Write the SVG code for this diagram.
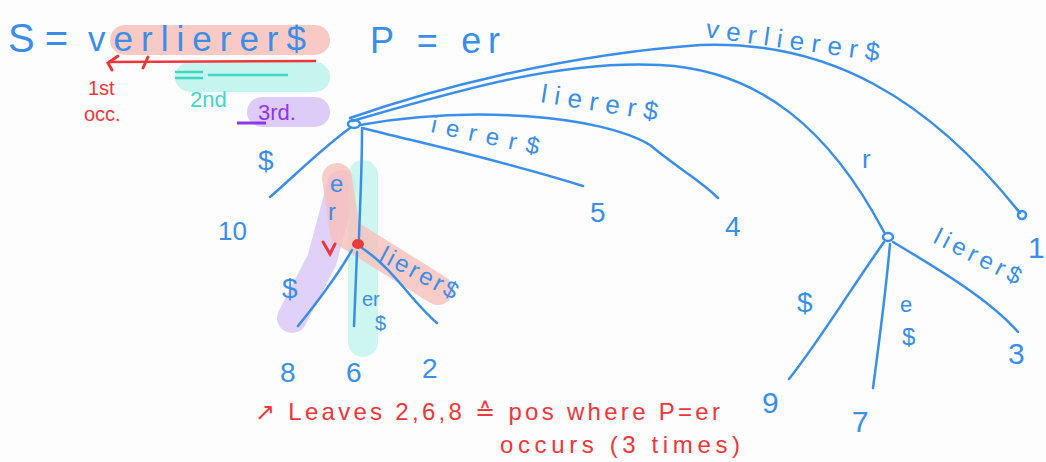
<svg xmlns="http://www.w3.org/2000/svg" width="1046" height="462" viewBox="0 0 1046 462">
<style>
.b{fill:#3a8ee8;font-family:"Liberation Sans",Arial,sans-serif}
.r{fill:#f0363a;font-family:"Liberation Sans",Arial,sans-serif}
.e{fill:none;stroke:#3a8ee8;stroke-width:2.5;stroke-linecap:round;stroke-linejoin:round}
.hl{fill:none;stroke-linecap:round;stroke-linejoin:round;stroke-width:30}
</style>
<rect width="1046" height="462" fill="#fdfdfe"/>
<g id="highlights">
<path class="hl" d="M125,40 H315" stroke="#f9c9c5"/>
<path class="hl" d="M190,77 H315" stroke="#c6f4ee"/>
<path class="hl" d="M262,112 H315" stroke="#ddccf8"/>
<path class="hl" d="M342,185 L322,260 L292,318" stroke="#ddccf8" opacity="0.9"/>
<path class="hl" d="M363,175 V342" stroke="#c6f4ee" opacity="0.85"/>
<path class="hl" d="M337,178 L345,232 L438,290" stroke="#f9bfba" opacity="0.8"/>
</g>
<g id="header">
<text class="b" x="8" y="52" font-size="40" textLength="60">S =</text>
<text class="b" x="88" y="51" font-size="35" textLength="218">verlierer$</text>
<text class="b" x="370" y="53" font-size="36" textLength="130">P = er</text>
<path d="M108,62 L316,61" stroke="#f0363a" stroke-width="2.5" fill="none"/>
<path d="M118,56 L108,63 L112,70 M148,57 L143,68" stroke="#f0363a" stroke-width="3" fill="none" stroke-linecap="round"/>
<path d="M175,72 H203 M175,78 H203 M208,75 H288" stroke="#3dd8c4" stroke-width="2.5" fill="none"/>
<text class="r" x="88" y="95" font-size="20">1st</text>
<text class="r" x="84" y="121" font-size="20">occ.</text>
<text x="190" y="107" font-size="22" fill="#3dd8c4" font-family="Liberation Sans,Arial,sans-serif">2nd</text>
<text x="258" y="120" font-size="22" fill="#9038e8" font-family="Liberation Sans,Arial,sans-serif">3rd.</text>
<path d="M237,123 H266" stroke="#9038e8" stroke-width="3" fill="none"/>
</g>
<g id="connectors">
<path class="e" d="M350,118 C430,90 560,55 700,45 C830,40 930,100 1020,213"/>
<path class="e" d="M352,121 C460,90 560,60 660,65 C760,70 830,130 884,232"/>
<path class="e" d="M360,125 C470,105 600,115 650,145 C680,170 700,180 718,198"/>
<path class="e" d="M362,128 C430,145 500,160 583,186"/>
<path class="e" d="M350,128 C320,150 290,180 270,197"/>
<path class="e" d="M362,130 C362,170 360,205 359,238"/>
<path class="e" d="M352,250 C335,280 315,305 298,326"/>
<path class="e" d="M357,252 C356,280 355,305 354,326"/>
<path class="e" d="M362,248 C395,270 410,300 437,323"/>
<path class="e" d="M884,242 C850,290 820,340 789,379"/>
<path class="e" d="M890,244 C885,300 878,350 873,388"/>
<path class="e" d="M893,242 C940,270 990,300 1018,332"/>
</g>
<g id="edge-labels">
<text class="b" font-size="26" transform="translate(705,37) rotate(8)" textLength="175">verlierer$</text>
<text class="b" font-size="26" transform="translate(540,102) rotate(9)" textLength="118">lierer$</text>
<text class="b" font-size="24" transform="translate(430,132) rotate(12)" textLength="110">ierer$</text>
<text class="b" x="258" y="170" font-size="28">$</text>
<text class="b" x="330" y="192" font-size="24">e</text>
<text class="b" x="328" y="220" font-size="24">r</text>
<text class="b" x="282" y="298" font-size="28">$</text>
<text class="b" x="362" y="306" font-size="20">er</text>
<text class="b" x="375" y="330" font-size="20">$</text>
<text class="b" font-size="24" transform="translate(378,260) rotate(28)" textLength="85">lierer$</text>
<text class="b" x="862" y="168" font-size="26">r</text>
<text class="b" x="797" y="312" font-size="28">$</text>
<text class="b" x="900" y="312" font-size="22">e</text>
<text class="b" x="902" y="345" font-size="24">$</text>
<text class="b" font-size="24" transform="translate(932,242) rotate(27)" textLength="95">lierer$</text>
</g>
<g id="node-root"><ellipse cx="354" cy="124" rx="6" ry="4" fill="none" stroke="#3a8ee8" stroke-width="2.5"/></g>
<g id="node-er"><ellipse cx="358" cy="244" rx="5" ry="4" fill="#e04040" stroke="#f0363a" stroke-width="2"/>
<path d="M323,242 L330,254 L335,244" stroke="#f0363a" stroke-width="3" fill="none" stroke-linecap="round"/></g>
<g id="node-r"><ellipse cx="888" cy="237" rx="5" ry="4" fill="none" stroke="#3a8ee8" stroke-width="2.5"/></g>
<g id="leaf-1"><circle cx="1022" cy="215" r="4" fill="none" stroke="#3a8ee8" stroke-width="2.5"/><text class="b" x="1028" y="258" font-size="30">1</text></g>
<g id="leaf-10"><text class="b" x="218" y="240" font-size="26">10</text></g>
<g id="leaf-5"><text class="b" x="590" y="222" font-size="28">5</text></g>
<g id="leaf-4"><text class="b" x="725" y="236" font-size="28">4</text></g>
<g id="leaf-8"><text class="b" x="280" y="382" font-size="28">8</text></g>
<g id="leaf-6"><text class="b" x="346" y="382" font-size="28">6</text></g>
<g id="leaf-2"><text class="b" x="422" y="378" font-size="28">2</text></g>
<g id="leaf-9"><text class="b" x="762" y="413" font-size="30">9</text></g>
<g id="leaf-7"><text class="b" x="852" y="432" font-size="30">7</text></g>
<g id="leaf-3"><text class="b" x="1008" y="364" font-size="30">3</text></g>
<g id="note">
<text class="r" x="255" y="420" font-size="24" textLength="465">↗ Leaves 2,6,8 ≙ pos where P=er</text>
<text class="r" x="500" y="453" font-size="24" textLength="240">occurs (3 times)</text>
</g>
</svg>
